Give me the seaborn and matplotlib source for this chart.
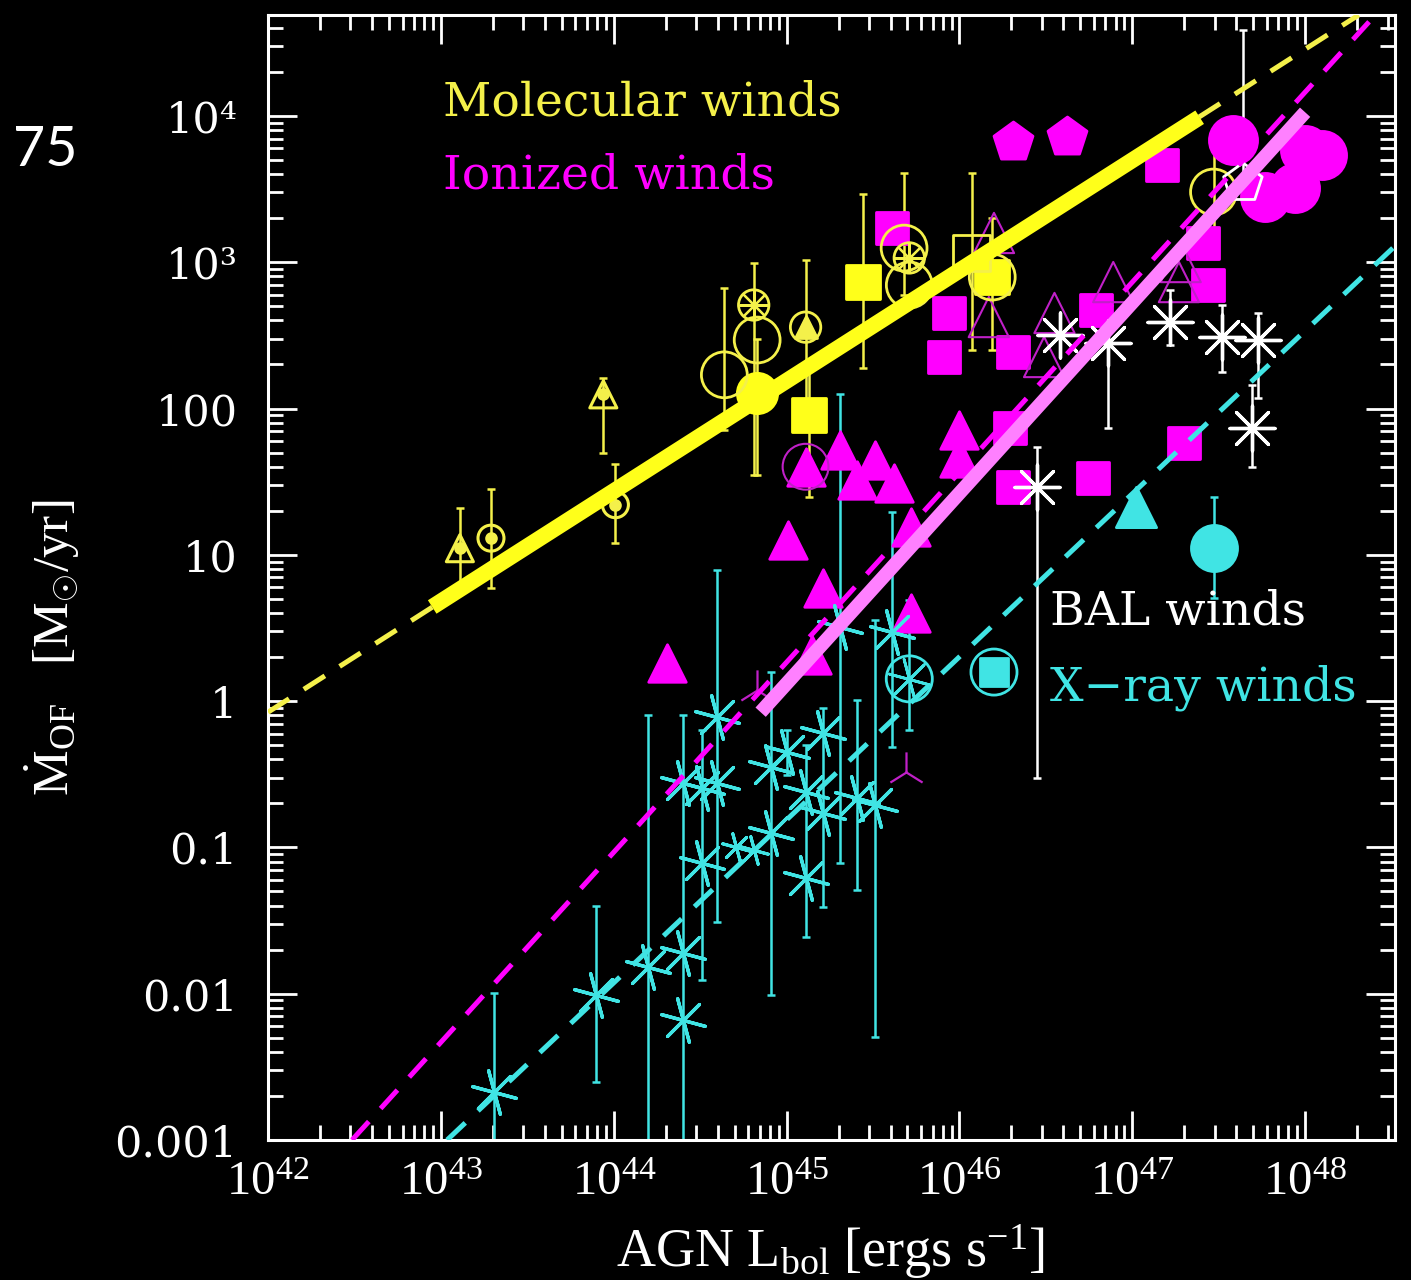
import matplotlib
matplotlib.use('Agg')
import matplotlib.pyplot as plt
import numpy as np
import seaborn as sns
from matplotlib.ticker import LogLocator, FixedLocator, FixedFormatter, NullFormatter

# ---------------- data: log10 L_bol [erg/s], Mdot [Msun/yr], error low / high ----------------
nan = np.nan

# molecular winds (yellow)
mol_sq_logL = [45.13, 45.44, 46.19]
mol_sq_mdot = [90, 732, 792]
mol_sq_lo = [25, 189, 251]
mol_sq_hi = [200, 2925, 2005]

mol_opensq_logL = [46.07]
mol_opensq_mdot = [1155]
mol_opensq_lo = [251]
mol_opensq_hi = [4070]

mol_fillcirc_logL = [44.83]
mol_fillcirc_mdot = [128]
mol_fillcirc_lo = [35]
mol_fillcirc_hi = [300]

mol_bigcirc_logL = [44.64, 44.83, 45.68, 45.71, 46.19, 47.47]
mol_bigcirc_mdot = [170, 294, 1250, 698, 792, 3020]
mol_bigcirc_lo = [71, nan, 600, nan, nan, 1418]
mol_bigcirc_hi = [665, nan, 4070, nan, nan, 7400]

mol_dotcirc_logL = [43.29, 44.01]
mol_dotcirc_mdot = [13.0, 22]
mol_dotcirc_lo = [5.9, 12]
mol_dotcirc_hi = [28, 42]

mol_dottri_logL = [43.11, 43.94]
mol_dottri_mdot = [11.1, 125]
mol_dottri_lo = [5.7, 50]
mol_dottri_hi = [21, 161]

mol_xcirc_logL = [44.81, 45.71]
mol_xcirc_mdot = [510, 1070]
mol_xcirc_lo = [35, nan]
mol_xcirc_hi = [990, nan]

mol_tricirc_logL = [45.11]
mol_tricirc_mdot = [360]
mol_tricirc_lo = [100]
mol_tricirc_hi = [1035]

# ionized winds (magenta)
ion_pent_logL = [46.31, 46.62]
ion_pent_mdot = [6630, 7170]

ion_bigcirc_logL = [47.58, 48.00, 47.94, 47.77, 48.10]
ion_bigcirc_mdot = [6840, 5850, 3215, 2790, 5400]

ion_sq_logL = [45.61, 47.17, 45.94, 45.91, 46.31, 46.79, 47.41, 47.44, 46.29, 46.31, 46.77, 47.30]
ion_sq_mdot = [1713, 4615, 450, 225, 243, 471, 1353, 698, 73.6, 29, 33.5, 58]

ion_tri_logL = [45.31, 45.51, 45.41, 45.62, 45.11, 45.01, 45.21, 45.72, 45.72, 45.15, 44.31, 46.00, 46.00]
ion_tri_mdot = [52, 44.5, 32.5, 31, 40, 12.6, 5.9, 15.5, 4.0, 2.07, 1.82, 71, 45.9]

ion_opentri_logL = [46.20, 46.17, 46.49, 46.55, 46.89, 47.27, 47.28]
ion_opentri_mdot = [1585, 422, 225, 450, 732, 732, 1003]

ion_y_logL = [44.83, 45.69]
ion_y_mdot = [1.19, 0.327]

ion_ring_logL = [45.11]
ion_ring_mdot = [40]

# BAL winds (white)
bal_ast_logL = [46.58, 46.86, 47.22, 47.52, 47.73, 47.69, 46.45]
bal_ast_mdot = [318, 280, 390, 308, 294, 73.6, 29]
bal_ast_lo = [nan, 73.6, 272, 178, 118, 40, 0.298]
bal_ast_hi = [nan, 510, 645, 510, 450, 145, 54.6]

bal_pent_logL = [47.64]
bal_pent_mdot = [3475]
bal_pent_lo = [3475]
bal_pent_hi = [38600]

# X-ray winds (cyan)
xr_tri_logL = [47.02]
xr_tri_mdot = [21.2]

xr_circ_logL = [47.47]
xr_circ_mdot = [11.1]
xr_circ_lo = [5.07]
xr_circ_hi = [25]

xr_sqcirc_logL = [46.20]
xr_sqcirc_mdot = [1.58]

xr_astcirc_logL = [45.71]
xr_astcirc_mdot = [1.42]
xr_astcirc_lo = [0.634]
xr_astcirc_hi = [4.91]

xr_ast_logL = [43.31, 43.90, 44.20, 44.40, 44.40, 44.51, 44.40, 44.51, 44.60, 44.60,
               44.91, 44.91, 45.00, 45.11, 45.11, 45.21, 45.21, 45.41, 45.51, 45.31, 45.61]
xr_ast_mdot = [0.00213, 0.0098, 0.0152, 0.019, 0.0066, 0.078, 0.275, 0.255, 0.275, 0.78,
               0.125, 0.355, 0.449, 0.0618, 0.239, 0.172, 0.605, 0.218, 0.195, 3.21, 2.97]
xr_ast_lo = [0.0008, 0.00249, 0.0008, 0.0008, nan, 0.0124, nan, nan, 0.031, nan,
             0.0098, nan, 0.313, 0.0244, nan, 0.039, nan, 0.051, 0.00506, 0.078, 0.486]
xr_ast_hi = [0.0101, 0.0398, 0.80, 0.80, nan, 0.634, nan, nan, 7.87, nan,
             1.58, nan, 0.634, 0.5, nan, 0.897, nan, 1.02, 3.58, 125.6, 19.6]

xr_ast_small_logL = [44.71, 44.81]
xr_ast_small_mdot = [0.10, 0.096]

# fit lines (end points)
mol_dash_logL = [42.0, 48.31]
mol_dash_mdot = [0.84, 4.9e4]
mol_fit_logL = [42.95, 47.39]
mol_fit_mdot = [4.4, 9800]
ion_dash_logL = [42.486, 48.37]
ion_dash_mdot = [0.001, 4.4e4]
ion_fit_logL = [44.85, 48.00]
ion_fit_mdot = [0.84, 10600]
xr_dash_logL = [43.036, 48.52]
xr_dash_mdot = [0.001, 1290]

YEL = '#ffff1a'
YEL_T = '#f4f04a'
MAG = '#ff00ff'
MAG_T = '#c020c8'
PINK = '#ff80ff'
CYAN = '#40e4e4'
WHITE = '#ffffff'

sns.set_theme(style='ticks', rc={'axes.facecolor': 'black', 'figure.facecolor': 'black',
                                 'savefig.facecolor': 'black'})
plt.rcParams['font.family'] = ['DejaVu Serif', 'DejaVu Sans']
plt.rcParams['mathtext.fontset'] = 'custom'
plt.rcParams['mathtext.rm'] = 'Liberation Serif'
plt.rcParams['mathtext.it'] = 'Liberation Serif:italic'


def pts(ax, logL, mdot, marker, s, color, filled=True, lw=2.0, z=3):
    x = 10.0 ** np.asarray(logL, float)
    y = np.asarray(mdot, float)
    kw = dict(x=x, y=y, marker=marker, s=s, linewidth=lw, zorder=z, ax=ax, legend=False)
    if filled == 'line':
        sns.scatterplot(color=color, **kw)
    elif filled:
        sns.scatterplot(color=color, edgecolor=color, **kw)
    else:
        sns.scatterplot(color=color, facecolor='none', edgecolor=color, **kw)


def bars(ax, logL, mdot, lo, hi, color, lw=1.8, z=2):
    x = 10.0 ** np.asarray(logL, float)
    y = np.asarray(mdot, float)
    lo = np.asarray(lo, float)
    hi = np.asarray(hi, float)
    ok = ~np.isnan(lo)
    ax.errorbar(x[ok], y[ok], yerr=[y[ok] - lo[ok], hi[ok] - y[ok]], fmt='none',
                ecolor=color, elinewidth=lw, capsize=3, capthick=lw, zorder=z)


def fit(ax, logL, mdot, color, lw, dashed, z):
    ls = (0, (5, 3.5)) if dashed else '-'
    sns.lineplot(x=10.0 ** np.asarray(logL, float), y=np.asarray(mdot, float), color=color,
                 linewidth=lw, linestyle=ls, ax=ax, zorder=z, solid_capstyle='butt',
                 dash_capstyle='butt', legend=False)


fig = plt.figure(figsize=(14.11, 12.80), dpi=100)
ax = fig.add_axes([268 / 1411, 1 - 1140 / 1280, 1127 / 1411, 1125 / 1280])
ax.set_xscale('log')
ax.set_yscale('log')

# --- error bars ---
bars(ax, mol_sq_logL, mol_sq_mdot, mol_sq_lo, mol_sq_hi, YEL_T)
bars(ax, mol_opensq_logL, mol_opensq_mdot, mol_opensq_lo, mol_opensq_hi, YEL_T)
bars(ax, mol_fillcirc_logL, mol_fillcirc_mdot, mol_fillcirc_lo, mol_fillcirc_hi, YEL_T)
bars(ax, mol_bigcirc_logL, mol_bigcirc_mdot, mol_bigcirc_lo, mol_bigcirc_hi, YEL_T)
bars(ax, mol_dotcirc_logL, mol_dotcirc_mdot, mol_dotcirc_lo, mol_dotcirc_hi, YEL_T)
bars(ax, mol_dottri_logL, mol_dottri_mdot, mol_dottri_lo, mol_dottri_hi, YEL_T)
bars(ax, mol_xcirc_logL, mol_xcirc_mdot, mol_xcirc_lo, mol_xcirc_hi, YEL_T)
bars(ax, mol_tricirc_logL, mol_tricirc_mdot, mol_tricirc_lo, mol_tricirc_hi, YEL_T)
bars(ax, bal_ast_logL, bal_ast_mdot, bal_ast_lo, bal_ast_hi, WHITE)
bars(ax, bal_pent_logL, bal_pent_mdot, bal_pent_lo, bal_pent_hi, WHITE)
bars(ax, xr_circ_logL, xr_circ_mdot, xr_circ_lo, xr_circ_hi, CYAN)
bars(ax, xr_astcirc_logL, xr_astcirc_mdot, xr_astcirc_lo, xr_astcirc_hi, CYAN)
bars(ax, xr_ast_logL, xr_ast_mdot, xr_ast_lo, xr_ast_hi, CYAN)

# --- ionized winds ---
pts(ax, ion_sq_logL, ion_sq_mdot, 's', 530, MAG)
pts(ax, ion_tri_logL, ion_tri_mdot, '^', 730, MAG)
pts(ax, ion_pent_logL, ion_pent_mdot, 'p', 870, MAG)
pts(ax, ion_bigcirc_logL, ion_bigcirc_mdot, 'o', 1200, MAG)
pts(ax, ion_opentri_logL, ion_opentri_mdot, '^', 840, MAG_T, filled=False, lw=1.5)
pts(ax, ion_y_logL, ion_y_mdot, '2', 840, MAG_T, filled='line', lw=1.6)
pts(ax, ion_ring_logL, ion_ring_mdot, 'o', 1090, MAG_T, filled=False, lw=1.5)

# --- molecular winds ---
pts(ax, mol_sq_logL, mol_sq_mdot, 's', 600, YEL)
pts(ax, mol_opensq_logL, mol_opensq_mdot, 's', 676, YEL_T, filled=False)
pts(ax, mol_fillcirc_logL, mol_fillcirc_mdot, 'o', 840, YEL)
pts(ax, mol_bigcirc_logL, mol_bigcirc_mdot, 'o', 1090, YEL_T, filled=False)
pts(ax, mol_dotcirc_logL, mol_dotcirc_mdot, 'o', 350, YEL_T, filled=False, lw=2.2)
pts(ax, mol_dotcirc_logL, mol_dotcirc_mdot, 'o', 50, YEL_T)
pts(ax, mol_dottri_logL, mol_dottri_mdot, '^', 380, YEL_T, filled=False, lw=2.2)
pts(ax, mol_dottri_logL, mol_dottri_mdot, 'o', 50, YEL_T)
pts(ax, mol_xcirc_logL, mol_xcirc_mdot, 'o', 480, YEL_T, filled=False)
pts(ax, mol_xcirc_logL, mol_xcirc_mdot, (8, 2, 0), 420, YEL_T, filled='line', lw=1.6)
pts(ax, mol_tricirc_logL, mol_tricirc_mdot, 'o', 480, YEL_T, filled=False)
pts(ax, mol_tricirc_logL, mol_tricirc_mdot, '^', 250, YEL_T)

# --- BAL winds ---
pts(ax, bal_ast_logL, bal_ast_mdot, (8, 2, 0), 1050, WHITE, filled='line', lw=2.4, z=4)
pts(ax, bal_pent_logL, bal_pent_mdot, 'p', 850, WHITE, filled=False, lw=2.0)

# --- X-ray winds ---
pts(ax, xr_ast_logL, xr_ast_mdot, (6, 2, 15), 1050, CYAN, filled='line', lw=2.4)
pts(ax, xr_ast_small_logL, xr_ast_small_mdot, (6, 2, 15), 420, CYAN, filled='line', lw=2.2)
pts(ax, xr_tri_logL, xr_tri_mdot, '^', 840, CYAN)
pts(ax, xr_circ_logL, xr_circ_mdot, 'o', 1100, CYAN)
pts(ax, xr_sqcirc_logL, xr_sqcirc_mdot, 'o', 1100, CYAN, filled=False, lw=2.0)
pts(ax, xr_sqcirc_logL, xr_sqcirc_mdot, 's', 380, CYAN)
pts(ax, xr_astcirc_logL, xr_astcirc_mdot, 'o', 1100, CYAN, filled=False, lw=2.0)
pts(ax, xr_astcirc_logL, xr_astcirc_mdot, (6, 2, 15), 900, CYAN, filled='line', lw=2.0)

# --- fit lines ---
fit(ax, mol_dash_logL, mol_dash_mdot, YEL_T, 3.6, True, 5)
fit(ax, ion_dash_logL, ion_dash_mdot, MAG, 3.6, True, 5)
fit(ax, xr_dash_logL, xr_dash_mdot, CYAN, 3.6, True, 5)
fit(ax, mol_fit_logL, mol_fit_mdot, YEL, 11.5, False, 6)
fit(ax, ion_fit_logL, ion_fit_mdot, PINK, 10, False, 6)

ax.set_xlim(1e42, 10 ** 48.52)
ax.set_ylim(1e-3, 10 ** 4.69)

# --- axes styling ---
ax.xaxis.set_major_locator(FixedLocator(10.0 ** np.arange(42, 49)))
ax.xaxis.set_major_formatter(FixedFormatter([r'$\mathregular{10^{%d}}$' % k for k in range(42, 49)]))
ax.xaxis.set_minor_locator(LogLocator(base=10, subs=np.arange(2, 10), numticks=100))
ax.xaxis.set_minor_formatter(NullFormatter())
ax.yaxis.set_major_locator(FixedLocator(10.0 ** np.arange(-3, 5)))
ax.yaxis.set_major_formatter(FixedFormatter(['0.001', '0.01', '0.1', '1', '10', '100', '10³', '10⁴']))
ax.yaxis.set_minor_locator(LogLocator(base=10, subs=np.arange(2, 10), numticks=100))
ax.yaxis.set_minor_formatter(NullFormatter())

ax.tick_params(which='both', direction='in', top=True, right=True, color='white',
               labelcolor='white')
ax.tick_params(which='major', length=21, width=2.0)
ax.tick_params(which='minor', length=10.5, width=2.0)
ax.tick_params(axis='x', which='major', pad=15, labelsize=35)
ax.tick_params(axis='y', which='major', pad=22, labelsize=31)
for lab in ax.get_xticklabels():
    lab.set_fontfamily('Liberation Serif')
for sp in ax.spines.values():
    sp.set_color('white')
    sp.set_linewidth(2.2)
ax.grid(False)
ax.set_xlabel('')
ax.set_ylabel('')

# --- labels ---
txt = dict(transform=ax.transAxes, fontsize=34, ha='left', va='center', zorder=10)
ax.text(0.1553, 0.9218, 'Molecular winds', color=YEL_T, **txt)
ax.text(0.1553, 0.8569, 'Ionized winds', color=MAG, **txt)
ax.text(0.6939, 0.4693, 'BAL winds', color=WHITE, **txt)
ax.text(0.6939, 0.4018, 'X\u2212ray winds', color=CYAN, **txt)

fig.text(830 / 1411, 1 - 1252 / 1280, r'AGN L$_{\mathrm{bol}}$ [ergs s$^{-1}$]',
         color='white', fontsize=39, family='Liberation Serif', ha='center', va='center')
fig.text(52 / 1411, 1 - 648 / 1280, r'$\dot{\mathrm{M}}_{\mathrm{OF}}$   [M$_{\odot}$/yr]',
         color='white', fontsize=37, family='Liberation Serif', rotation=90,
         ha='center', va='center')
fig.text(45 / 1411, 1 - 150 / 1280, '75', color='white', fontsize=40, family='Lato',
         ha='center', va='center')

fig.savefig('out.png', dpi=100, facecolor='black')
